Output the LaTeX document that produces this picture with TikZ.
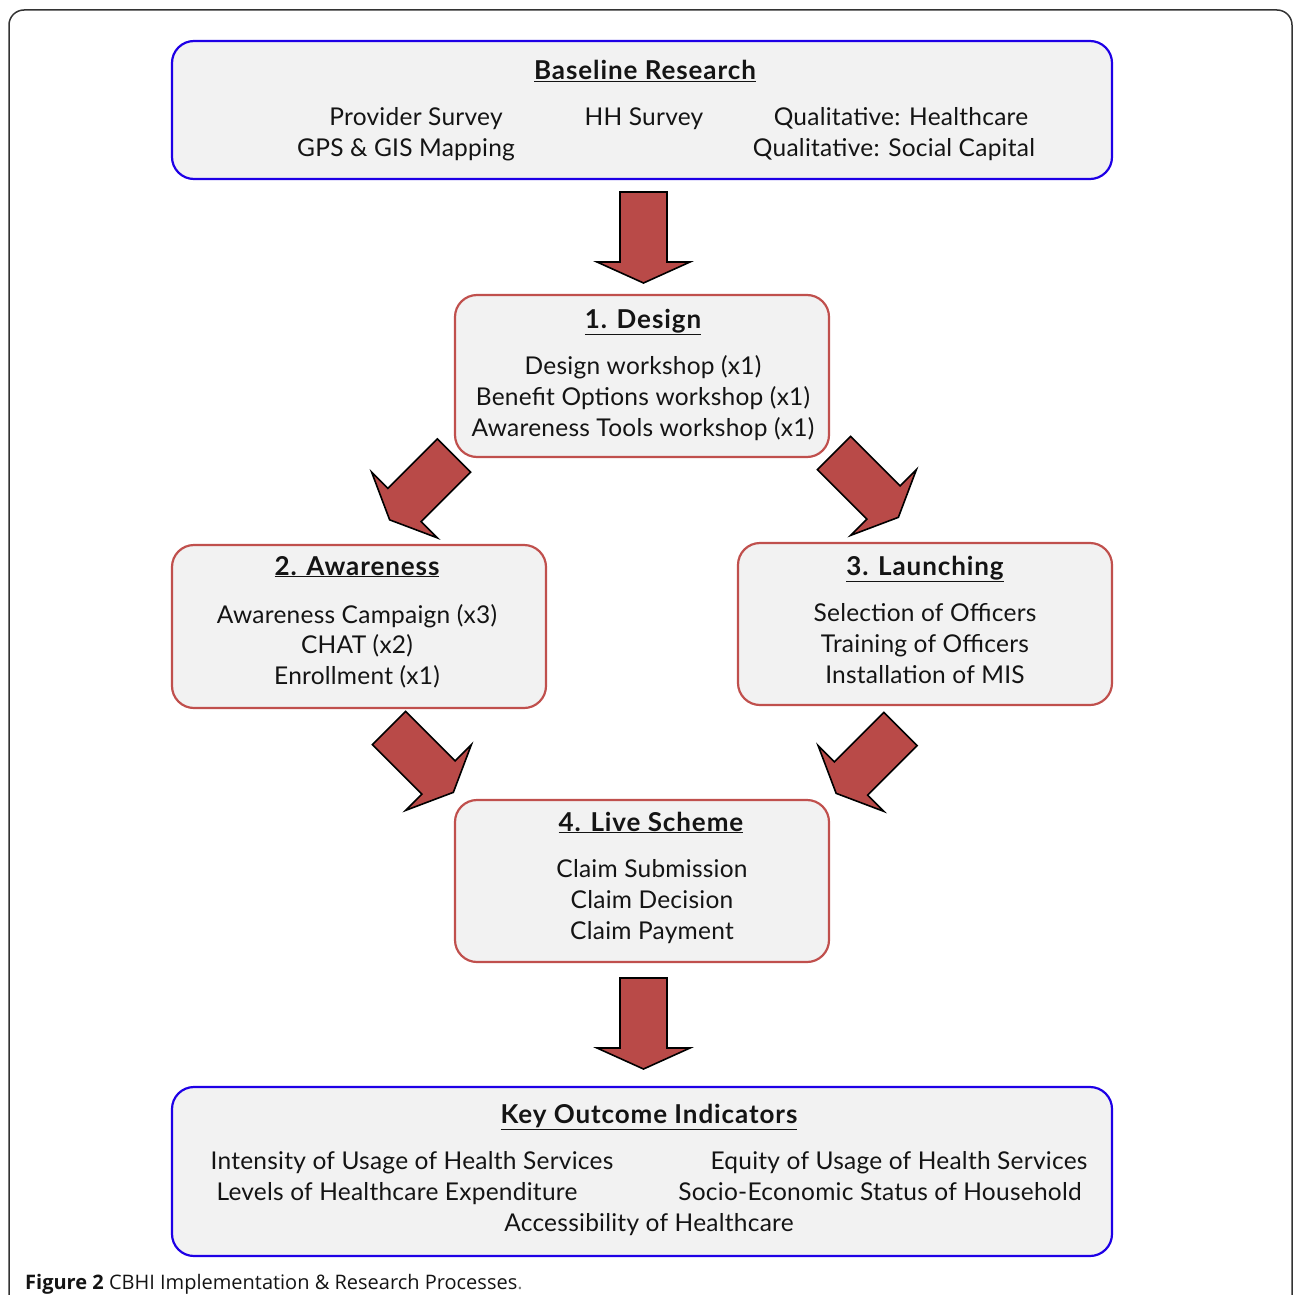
\documentclass[tikz,border=0pt]{standalone}
\usepackage{fontspec}
\setmainfont{Lato}
\newfontfamily\bodyfont[LetterSpace=1]{Lato}
\newfontfamily\titlefont[LetterSpace=3.5]{Lato}
\newfontfamily\capfont{Open Sans}
\definecolor{boxfill}{RGB}{242,242,242}
\definecolor{bluebd}{RGB}{30,0,230}
\definecolor{redbd}{RGB}{192,80,77}
\definecolor{arrowfill}{RGB}{185,74,72}
\definecolor{txtc}{RGB}{20,20,20}
\tikzset{
  boxbase/.style={draw, fill=boxfill, line width=2.2pt, rounded corners=22pt, inner sep=0pt},
  bluebox/.style={boxbase, draw=bluebd},
  redbox/.style={boxbase, draw=redbd},
  txt/.style={anchor=base, inner sep=0pt, text=txtc, font=\bodyfont\fontsize{24.5}{31}\selectfont},
  ttl/.style={txt, font=\titlefont\fontsize{26}{31}\selectfont\bfseries},
  bigarrow/.pic={
    \draw[fill=arrowfill, draw=black, line width=1.6pt, line join=miter]
      (0,-23.5) -- (70,-23.5) -- (70,-46.5) -- (91,0) -- (70,46.5) -- (70,23.5) -- (0,23.5) -- cycle;
  }
}
\newcommand{\ul}[1]{\underline{#1}}
\begin{document}
\begin{tikzpicture}[x=1pt,y=-1pt]
\useasboundingbox (0,0) rectangle (1293,1295);
% outer frame
\draw[line width=1.5pt, draw=black!80, rounded corners=15pt] (9,1300) -- (9,10) -- (1292,10) -- (1292,1300);

% boxes
\node[bluebox, minimum width=940pt, minimum height=138pt] (base) at (642,110) {};
\node[redbox, minimum width=374pt, minimum height=162pt] (design) at (642,376) {};
\node[redbox, minimum width=374pt, minimum height=163pt] (aware) at (359,626.5) {};
\node[redbox, minimum width=374pt, minimum height=162pt] (launch) at (925,624) {};
\node[redbox, minimum width=374pt, minimum height=162pt] (live) at (642,881) {};
\node[bluebox, minimum width=940pt, minimum height=169pt] (key) at (642,1171.5) {};

% baseline research
\node[ttl] (t0) at (645,80) {\ul{Baseline Research}};
\node[txt] (b1) at (416,126) {Provider Survey};
\node[txt] (b2) at (406,157) {GPS \& GIS Mapping};
\node[txt] (b3) at (644,126) {HH Survey};
\node[txt] (b4) at (901,126) {Qualitative: Healthcare};
\node[txt] (b5) at (894,157) {Qualitative: Social Capital};

% design
\node[ttl] (t1) at (643,328) {\ul{1. Design}};
\node[txt] (d1) at (643,374) {Design workshop (x1)};
\node[txt] (d2) at (643,405) {Benefit Options workshop (x1)};
\node[txt] (d3) at (643,436) {Awareness Tools workshop (x1)};

% awareness
\node[ttl] (t2) at (357,575) {\ul{2. Awareness}};
\node[txt] (a1) at (357,623) {Awareness Campaign (x3)};
\node[txt] (a2) at (357,653) {CHAT (x2)};
\node[txt] (a3) at (357,684) {Enrollment (x1)};

% launching
\node[ttl] (t3) at (925,575) {\ul{3. Launching}};
\node[txt] (l1) at (925,621) {Selection of Officers};
\node[txt] (l2) at (925,652) {Training of Officers};
\node[txt] (l3) at (925,683) {Installation of MIS};

% live scheme
\node[ttl] (t4) at (651,831) {\ul{4. Live Scheme}};
\node[txt] (s1) at (652,877) {Claim Submission};
\node[txt] (s2) at (652,908) {Claim Decision};
\node[txt] (s3) at (652,939) {Claim Payment};

% key outcome indicators
\node[ttl] (t5) at (649,1123) {\ul{Key Outcome Indicators}};
\node[txt] (k1) at (412,1169) {Intensity of Usage of Health Services};
\node[txt] (k2) at (899,1169) {Equity of Usage of Health Services};
\node[txt] (k3) at (397,1200) {Levels of Healthcare Expenditure};
\node[txt] (k4) at (880,1200) {Socio-Economic Status of Household};
\node[txt] (k5) at (649,1231) {Accessibility of Healthcare};

% arrows
\pic[rotate=-90] at (643.5,192) {bigarrow};
\pic[rotate=-135] at (454,455.5) {bigarrow};
\pic[rotate=-45] at (834,453) {bigarrow};
\pic[rotate=-45] at (389,728) {bigarrow};
\pic[rotate=-135] at (900.5,729) {bigarrow};
\pic[rotate=-90] at (643.5,978) {bigarrow};

% caption
\node[anchor=base west, inner sep=0pt, text=txtc, font=\capfont\fontsize{20}{24}\selectfont] (cap) at (25,1289)
  {\textbf{Figure 2} CBHI Implementation \& Research Processes\textcolor{gray}{.}};
\end{tikzpicture}
\end{document}
